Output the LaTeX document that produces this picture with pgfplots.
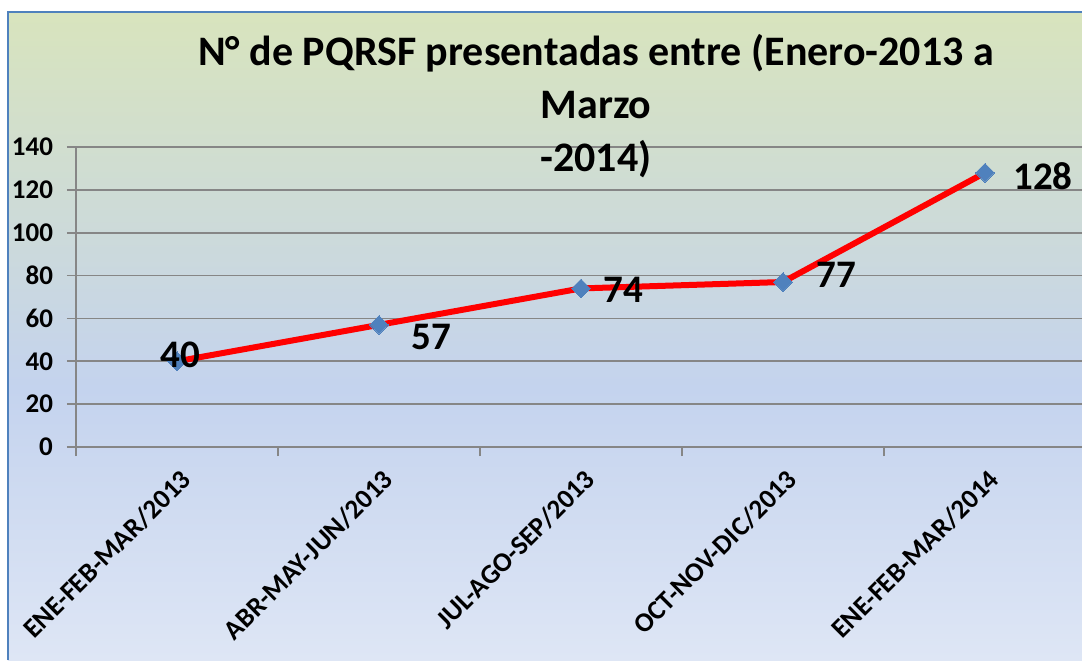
\documentclass[border=0pt]{standalone}
\usepackage{pgfplots}
\pgfplotsset{compat=1.18}
\usepackage{fontspec}
\setmainfont{Carlito}

\definecolor{bgtop}{HTML}{D8E4BD}
\definecolor{bgmid}{HTML}{C4D3EE}
\definecolor{bgbot}{HTML}{DEE6F5}
\definecolor{frameblue}{HTML}{4F81BD}
\definecolor{markblue}{HTML}{4F81BD}
\definecolor{gridgray}{HTML}{868686}

% green at the top, blue a little below the middle, light blue at the bottom
\pgfdeclareverticalshading{chartbg}{100bp}{
  color(0bp)=(bgbot); color(25bp)=(bgbot);
  color(46bp)=(bgmid); color(75bp)=(bgtop); color(100bp)=(bgtop)}

\pgfplotstableread{
x y dx dy
0 40 1.5 3
1 57 26 -6
2 74 21 -0.5
3 77 26.5 3.5
4 128 29 -1.5
}\pqrsf

\begin{document}
\begin{tikzpicture}
  % chart area background and frame
  \useasboundingbox (-38pt,-106.5pt) rectangle (503pt,223.5pt);
  \shade[shading=chartbg] (-34pt,-106.5pt) rectangle (503pt,217.5pt);
  \draw[frameblue, line width=1pt] (-34pt,-106.5pt) -- (-34pt,217.5pt) -- (503pt,217.5pt);

  \begin{axis}[
      scale only axis,
      width=503pt, height=150pt,
      xmin=-0.5, xmax=4.48,
      ymin=0, ymax=140,
      ytick={0,20,...,140},
      xtick={0,...,4},
      xticklabels={ENE-FEB-MAR/2013, ABR-MAY-JUN/2013, JUL-AGO-SEP/2013, OCT-NOV-DIC/2013, ENE-FEB-MAR/2014},
      minor xtick={-0.5,0.5,...,3.5},
      axis lines=left,
      axis line style={-, draw=gridgray, line width=0.8pt},
      every non boxed x axis/.append style={x axis line style={-}},
      every non boxed y axis/.append style={y axis line style={-}},
      ymajorgrids=true,
      grid style={gridgray, line width=0.8pt},
      tick align=outside,
      tick pos=lower,
      major tick length=4.5pt,
      minor tick length=4.5pt,
      major x tick style={draw=none},
      minor x tick style={gridgray, line width=0.8pt},
      major y tick style={gridgray, line width=0.8pt},
      /pgf/number format/assume math mode=true,
      yticklabel style={font=\fontsize{13.5}{15}\selectfont\bfseries, xshift=-3.5pt},
      xticklabel style={font=\fontsize{13.6}{15}\selectfont\bfseries, rotate=45, anchor=east, xshift=0pt, yshift=-10pt},
      title={N° de PQRSF presentadas entre (Enero-2013 a\\Marzo\\-2014)},
      title style={at={(rel axis cs:0.517,1.095)}, anchor=center, align=center,
        font=\fontsize{21}{26.5}\selectfont\bfseries},
    ]
    \addplot[red, line width=3pt,
      mark=square*, mark size=3.3pt,
      mark options={rotate=45, fill=markblue, draw=markblue, line width=0pt},
      visualization depends on={\thisrow{dx}\as\dx},
      visualization depends on={\thisrow{dy}\as\dy},
      nodes near coords,
      point meta=explicit,
      every node near coord/.append style={anchor=center, text=black,
        font=\fontsize{19.5}{22}\selectfont\bfseries,
        xshift=\dx pt, yshift=\dy pt},
    ] table[x=x, y=y, meta=y] {\pqrsf};
  \end{axis}
\end{tikzpicture}
\end{document}
